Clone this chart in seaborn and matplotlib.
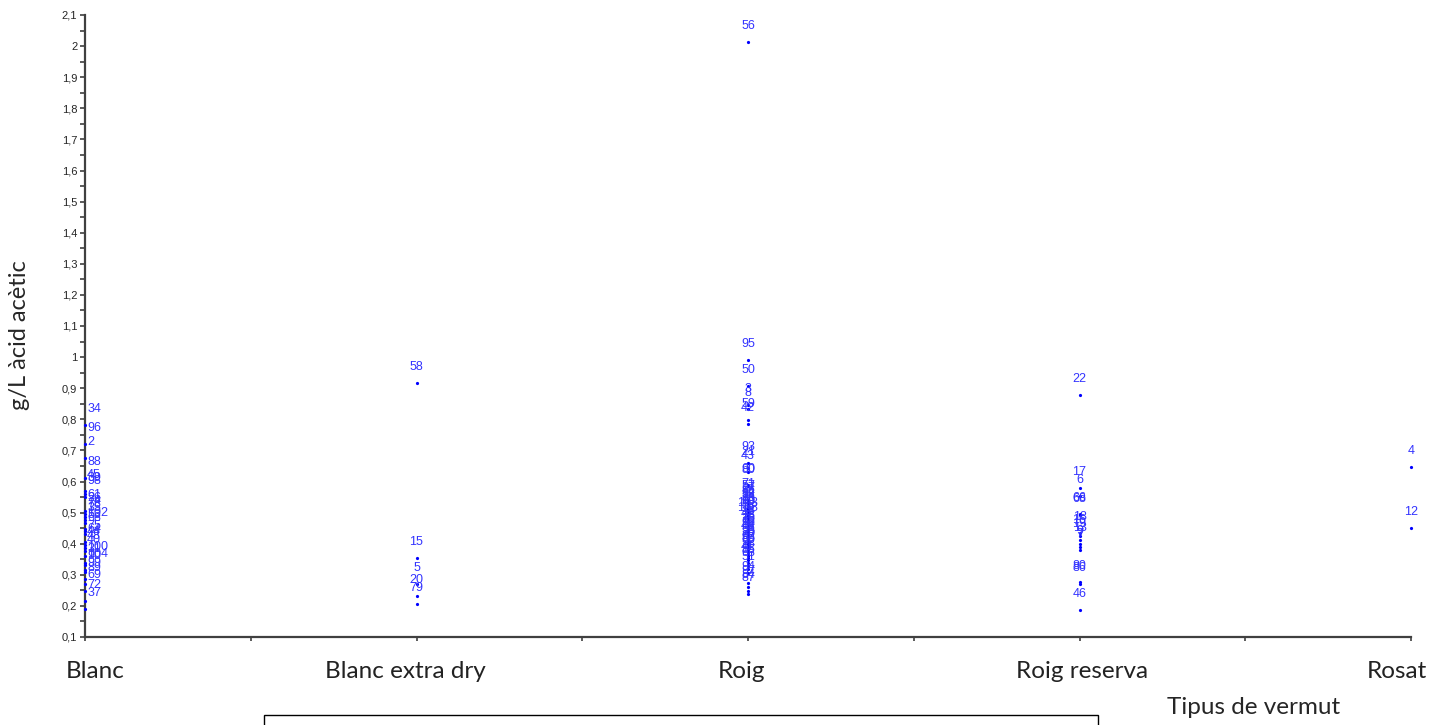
import matplotlib
matplotlib.use("Agg")
import matplotlib.pyplot as plt
from matplotlib.patches import Rectangle
from matplotlib.ticker import MultipleLocator, FuncFormatter
import seaborn as sns
import pandas as pd

# ---- data -------------------------------------------------------------
categories = ["Blanc", "Blanc extra dry", "Roig", "Roig reserva", "Rosat"]

blanc_ids = ["34", "96", "2", "88", "45", "39", "98", "61", "26", "74", "78", "35",
             "102", "53", "68", "75", "64", "44", "48", "40", "100", "31", "104",
             "90", "99", "89", "69", "72", "37"]
blanc_vals = [0.783, 0.722, 0.677, 0.612, 0.570, 0.560, 0.551, 0.506, 0.495, 0.485,
              0.475, 0.465, 0.447, 0.440, 0.430, 0.405, 0.395, 0.385, 0.375, 0.360,
              0.337, 0.330, 0.316, 0.310, 0.285, 0.270, 0.248, 0.215, 0.190]

extradry_ids = ["58", "15", "5", "20", "79"]
extradry_vals = [0.918, 0.354, 0.271, 0.232, 0.206]

roig_ids = ["56", "95", "50", "3", "8", "59", "42", "93", "21", "43", "60", "80",
            "71", "57", "27", "36", "54", "52", "38", "24", "33", "65", "10", "103",
            "58", "108", "14", "11", "47", "13", "76", "16", "62", "29", "49", "35",
            "55", "25", "70", "67", "83", "30", "92", "28", "41", "86", "63", "51",
            "94", "97", "84", "87"]
roig_vals = [2.013, 0.992, 0.908, 0.847, 0.834, 0.799, 0.786, 0.660, 0.644, 0.631,
             0.590, 0.586, 0.541, 0.535, 0.528, 0.522, 0.515, 0.510, 0.505, 0.500,
             0.495, 0.490, 0.485, 0.478, 0.470, 0.462, 0.455, 0.450, 0.445, 0.440,
             0.435, 0.428, 0.420, 0.413, 0.405, 0.398, 0.392, 0.386, 0.380, 0.374,
             0.368, 0.362, 0.355, 0.347, 0.338, 0.328, 0.318, 0.305, 0.274, 0.261,
             0.248, 0.238]

reserva_ids = ["22", "17", "6", "66", "68", "18", "16", "19", "13", "9", "7",
               "80", "86", "46"]
reserva_vals = [0.879, 0.580, 0.554, 0.496, 0.493, 0.435, 0.425, 0.412, 0.400,
                0.390, 0.380, 0.277, 0.271, 0.187]

rosat_ids = ["4", "12"]
rosat_vals = [0.647, 0.451]

# ---- build table ------------------------------------------------------
groups = [(blanc_ids, blanc_vals), (extradry_ids, extradry_vals), (roig_ids, roig_vals),
          (reserva_ids, reserva_vals), (rosat_ids, rosat_vals)]
rows = []
for cat, (ids, vals) in zip(categories, groups):
    for i, v in zip(ids, vals):
        rows.append({"tipus": cat, "id": i, "valor": v})
df = pd.DataFrame(rows)

# ---- figure -----------------------------------------------------------
sns.set_style("white")
plt.rcParams["font.family"] = ["Liberation Sans", "DejaVu Sans"]

fig = plt.figure(figsize=(14.48, 7.25), dpi=100)
ax = fig.add_axes([85 / 1448, 1 - 637 / 725, (1411 - 85) / 1448, (637 - 15) / 725])

point_color = "#0000ff"
label_color = "#3333ff"

sns.stripplot(data=df, x="tipus", y="valor", order=categories, jitter=False,
              color=point_color, size=2.3, linewidth=0, ax=ax, zorder=3, clip_on=False)

pos = {c: i for i, c in enumerate(categories)}
for _, r in df.iterrows():
    x = pos[r["tipus"]]
    if x == 0:
        ax.annotate(r["id"], (x, r["valor"]), xytext=(1.5, 11.5), textcoords="offset points",
                    ha="left", va="center", fontsize=9, color=label_color, zorder=4,
                    annotation_clip=False)
    else:
        ax.annotate(r["id"], (x, r["valor"]), xytext=(0, 11.5), textcoords="offset points",
                    ha="center", va="center", fontsize=9, color=label_color, zorder=4,
                    annotation_clip=False)

ax.set_xlim(0, len(categories) - 1)
ax.set_ylim(0.1, 2.1)

ax.yaxis.set_major_locator(MultipleLocator(0.1))
ax.yaxis.set_minor_locator(MultipleLocator(0.05))
ax.yaxis.set_major_formatter(FuncFormatter(lambda v, p: f"{v:.1f}".rstrip("0").rstrip(".").replace(".", ",") if abs(v - round(v)) > 1e-9 else f"{int(round(v))}"))
ax.xaxis.set_minor_locator(MultipleLocator(0.5))

ax.set_xticks(range(len(categories)))
ax.set_xticklabels([])

# category labels, with the small horizontal shifts (points) seen in the reference
label_shift_pt = [7.5, -8, -5, 1.5, -10]
for i, (cat, dx) in enumerate(zip(categories, label_shift_pt)):
    ax.annotate(cat, xy=(i, 0), xycoords=("data", "axes fraction"), xytext=(dx, -24.5),
                textcoords="offset points", ha="center", va="center",
                fontsize=17.5, fontfamily="Lato", color="#222222", annotation_clip=False)

ax.tick_params(axis="y", which="both", direction="out", length=3.5, width=1.2,
               color="#404040", labelsize=8, pad=2, left=True)
ax.tick_params(axis="x", which="both", direction="out", length=3, width=1.2,
               color="#404040", bottom=True)

for s in ["top", "right"]:
    ax.spines[s].set_visible(False)
for s in ["left", "bottom"]:
    ax.spines[s].set_color("#404040")
    ax.spines[s].set_linewidth(1.6)
    ax.spines[s].set_zorder(2)

ax.set_xlabel("")
ax.set_ylabel("")
fig.text(20 / 1448, 1 - 335 / 725, "g/L àcid acètic", rotation=90, ha="center",
         va="center", fontsize=17, fontfamily="Lato")
fig.text(1254 / 1448, 1 - 708 / 725, "Tipus de vermut", ha="center", va="center",
         fontsize=17.5, fontfamily="Lato")

fig.patches.append(Rectangle((264 / 1448, -0.02), (1098 - 264) / 1448, 0.02 + 10 / 725,
                             transform=fig.transFigure, fill=False, edgecolor="black",
                             linewidth=1.0))

fig.savefig("out.png", dpi=100, facecolor="white")
